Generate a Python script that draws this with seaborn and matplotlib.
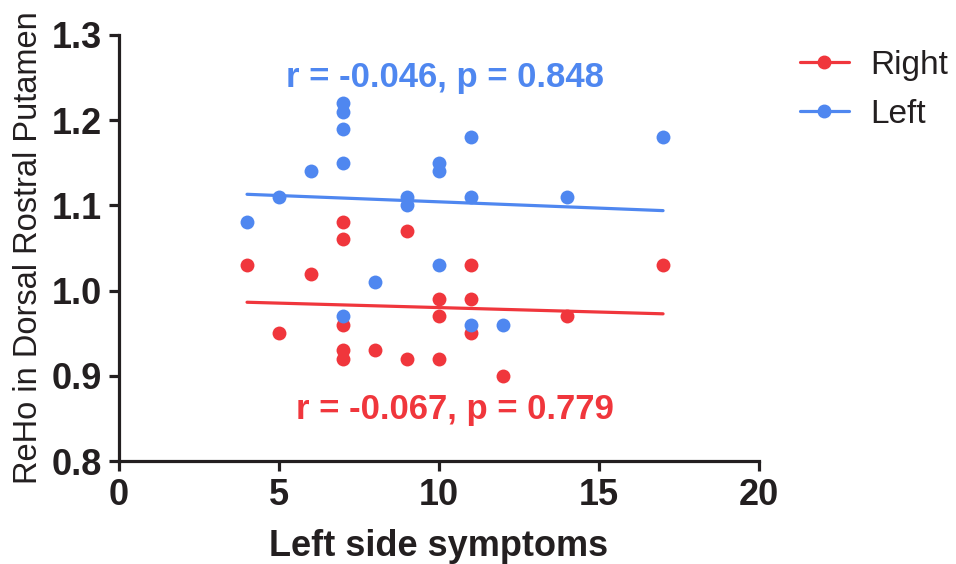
import matplotlib
matplotlib.use("Agg")
import matplotlib.pyplot as plt
from matplotlib.lines import Line2D
import seaborn as sns
import pandas as pd

# Left side symptoms (x) and ReHo values
left_x = [4, 5, 6, 7, 7, 7, 7, 7, 8, 9, 9, 10, 10, 10, 11, 11, 11, 12, 14, 17]
left_y = [1.08, 1.11, 1.14, 1.22, 1.21, 1.19, 1.15, 0.97, 1.01, 1.11, 1.10,
          1.15, 1.14, 1.03, 1.18, 1.11, 0.96, 0.96, 1.11, 1.18]

right_x = [4, 5, 6, 7, 7, 7, 7, 7, 8, 9, 9, 10, 10, 10, 11, 11, 11, 12, 14, 17]
right_y = [1.03, 0.95, 1.02, 1.08, 1.06, 0.96, 0.93, 0.92, 0.93, 1.07, 0.92,
           0.99, 0.97, 0.92, 1.03, 0.99, 0.95, 0.90, 0.97, 1.03]

x_ticks = [0, 5, 10, 15, 20]
y_ticks = [0.8, 0.9, 1.0, 1.1, 1.2, 1.3]

RED = "#f0363c"
BLUE = "#4f87f0"
DARK = "#231f20"

df_right = pd.DataFrame({"symptoms": right_x, "reho": right_y})
df_left = pd.DataFrame({"symptoms": left_x, "reho": left_y})

sns.set_style("ticks")
plt.rcParams["font.family"] = ["Liberation Sans", "DejaVu Sans"]

fig = plt.figure(figsize=(9.56, 5.64), dpi=100)
ax = fig.add_axes([0.1245, 0.1826, 0.6695, 0.7554])

sns.regplot(data=df_right, x="symptoms", y="reho", ci=None, ax=ax, color=RED,
            scatter_kws={"s": 100, "linewidths": 0, "alpha": 1},
            line_kws={"lw": 2.3})
sns.regplot(data=df_left, x="symptoms", y="reho", ci=None, ax=ax, color=BLUE,
            scatter_kws={"s": 100, "linewidths": 0, "alpha": 1},
            line_kws={"lw": 2.3})

ax.set_xlim(0, 20)
ax.set_ylim(0.8, 1.3)
ax.set_xticks(x_ticks)
ax.set_yticks(y_ticks)
ax.set_xticklabels([str(t) for t in x_ticks])
ax.set_yticklabels([f"{t:.1f}" for t in y_ticks])

for side in ["top", "right"]:
    ax.spines[side].set_visible(False)
for side in ["left", "bottom"]:
    ax.spines[side].set_linewidth(2.3)
    ax.spines[side].set_color(DARK)

ax.tick_params(axis="both", direction="out", length=7, width=2.3, color=DARK,
               labelsize=26, labelcolor=DARK, pad=5)
for lab in ax.get_xticklabels() + ax.get_yticklabels():
    lab.set_fontweight("bold")

ax.set_xlabel("Left side symptoms", fontsize=26, fontweight="bold", color=DARK, labelpad=12)
ax.set_ylabel("ReHo in Dorsal Rostral Putamen", fontsize=23.5, color=DARK, labelpad=6)

ax.text(10.2, 1.25, "r = -0.046, p = 0.848", color=BLUE, fontsize=25,
        fontweight="bold", ha="center", va="center")
ax.text(10.5, 0.86, "r = -0.067, p = 0.779", color=RED, fontsize=25,
        fontweight="bold", ha="center", va="center")

handles = [Line2D([0], [0], color=RED, lw=2.3, marker="o", markersize=9),
           Line2D([0], [0], color=BLUE, lw=2.3, marker="o", markersize=9)]
fig.legend(handles, ["Right", "Left"], loc="upper left", bbox_to_anchor=(0.837, 0.912),
           frameon=False, fontsize=24, handlelength=1.45, labelspacing=0.55,
           handletextpad=0.65, borderpad=0, borderaxespad=0, labelcolor=DARK)

fig.savefig("out.png", dpi=100)
